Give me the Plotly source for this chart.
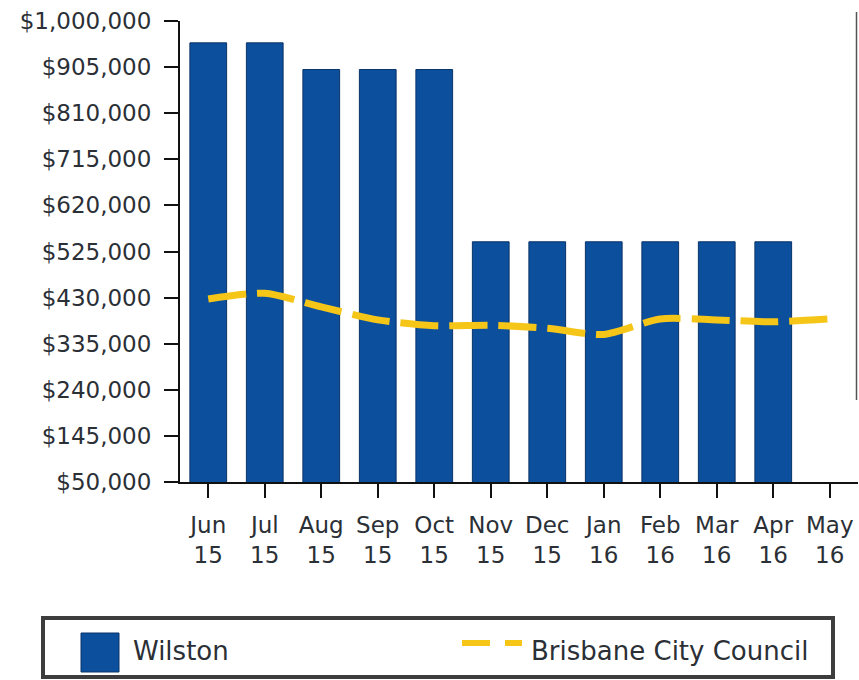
import plotly.graph_objects as go

# ---- data ----
MONTHS = ["Jun<br>15", "Jul<br>15", "Aug<br>15", "Sep<br>15", "Oct<br>15", "Nov<br>15",
          "Dec<br>15", "Jan<br>16", "Feb<br>16", "Mar<br>16", "Apr<br>16", "May<br>16"]
WILSTON = [955000, 955000, 900000, 900000, 900000, 545000,
           545000, 545000, 545000, 545000, 545000, None]
BRISBANE = [427000, 439000, 411000, 384000, 372000, 373000,
            367000, 354000, 386000, 384000, 380000, 386000]
Y_TICK_VALUES = [50000, 145000, 240000, 335000, 430000, 525000,
                 620000, 715000, 810000, 905000, 1000000]
Y_TICK_LABELS = ["$50,000", "$145,000", "$240,000", "$335,000", "$430,000", "$525,000",
                 "$620,000", "$715,000", "$810,000", "$905,000", "$1,000,000"]
SERIES_NAMES = ["Wilston", "Brisbane City Council"]

BAR_COLOR = "#0C4F9D"
LINE_COLOR = "#F5C518"
TEXT_COLOR = "#2b2f36"
FONT = "DejaVu Sans"

W, H = 859, 680
L, R, T, B = 180, 1, 21, 198
PW, PH = W - L - R, H - T - B


def px(x):
    return (x - L) / PW


def py(y):
    return (H - B - y) / PH


fig = go.Figure()
fig.add_trace(go.Bar(
    x=MONTHS, y=WILSTON, name=SERIES_NAMES[0],
    marker=dict(color=BAR_COLOR, line=dict(color="#0a3468", width=1)),
    showlegend=False,
))
fig.add_trace(go.Scatter(
    x=MONTHS, y=BRISBANE, name=SERIES_NAMES[1], mode="lines",
    line=dict(color=LINE_COLOR, width=7, dash="38px,11px", shape="spline", smoothing=0.7),
    showlegend=False,
))

shapes = [
    # legend frame
    dict(type="rect", xref="paper", yref="paper", x0=px(43), x1=px(833), y0=py(677), y1=py(618),
         line=dict(color="#3d3d3d", width=4), fillcolor="white", layer="above"),
    # bar swatch
    dict(type="rect", xref="paper", yref="paper", x0=px(81), x1=px(119), y0=py(672), y1=py(633),
         line=dict(color="#0a3468", width=1), fillcolor=BAR_COLOR, layer="above"),
    # dashed line swatch
    dict(type="line", xref="paper", yref="paper", x0=px(462), x1=px(490), y0=py(643), y1=py(643),
         line=dict(color=LINE_COLOR, width=6), layer="above"),
    dict(type="line", xref="paper", yref="paper", x0=px(505), x1=px(522), y0=py(643), y1=py(643),
         line=dict(color=LINE_COLOR, width=6), layer="above"),
    # scanned page edge on the right
    dict(type="line", xref="paper", yref="paper", x0=px(856.5), x1=px(856.5), y0=py(12), y1=py(400),
         line=dict(color="#555555", width=1.5), layer="above"),
]

annotations = [
    dict(text=SERIES_NAMES[0], xref="paper", yref="paper", x=px(131), y=py(651),
         xanchor="left", yanchor="middle", showarrow=False,
         font=dict(family=FONT, size=26, color=TEXT_COLOR)),
    dict(text=SERIES_NAMES[1], xref="paper", yref="paper", x=px(529), y=py(651),
         xanchor="left", yanchor="middle", showarrow=False,
         font=dict(family=FONT, size=26, color=TEXT_COLOR)),
]

fig.update_layout(
    width=W, height=H,
    margin=dict(l=L, r=R, t=T, b=B, pad=0),
    paper_bgcolor="white", plot_bgcolor="white",
    bargap=0.35,
    font=dict(family=FONT, size=23, color=TEXT_COLOR),
    shapes=shapes, annotations=annotations,
    xaxis=dict(
        type="category", showgrid=False, zeroline=False,
        showline=True, linecolor="#111111", linewidth=2,
        ticks="outside", ticklen=14, tickwidth=2, tickcolor="#111111",
        tickfont=dict(family=FONT, size=23, color=TEXT_COLOR),
        range=[-0.5, 11.5], fixedrange=True,
        ticklabelstandoff=7,
    ),
    yaxis=dict(
        range=[50000, 1000000], showgrid=False, zeroline=False,
        showline=True, linecolor="#111111", linewidth=2,
        ticks="outside", ticklen=14, tickwidth=2, tickcolor="#111111",
        tickvals=Y_TICK_VALUES, ticktext=Y_TICK_LABELS,
        tickfont=dict(family=FONT, size=23, color=TEXT_COLOR),
        ticklabelstandoff=8,
    ),
)

fig.write_html(
    "out.html",
    config={"displayModeBar": False},
    post_script="document.body.style.margin='0';document.body.style.overflow='hidden';",
)
